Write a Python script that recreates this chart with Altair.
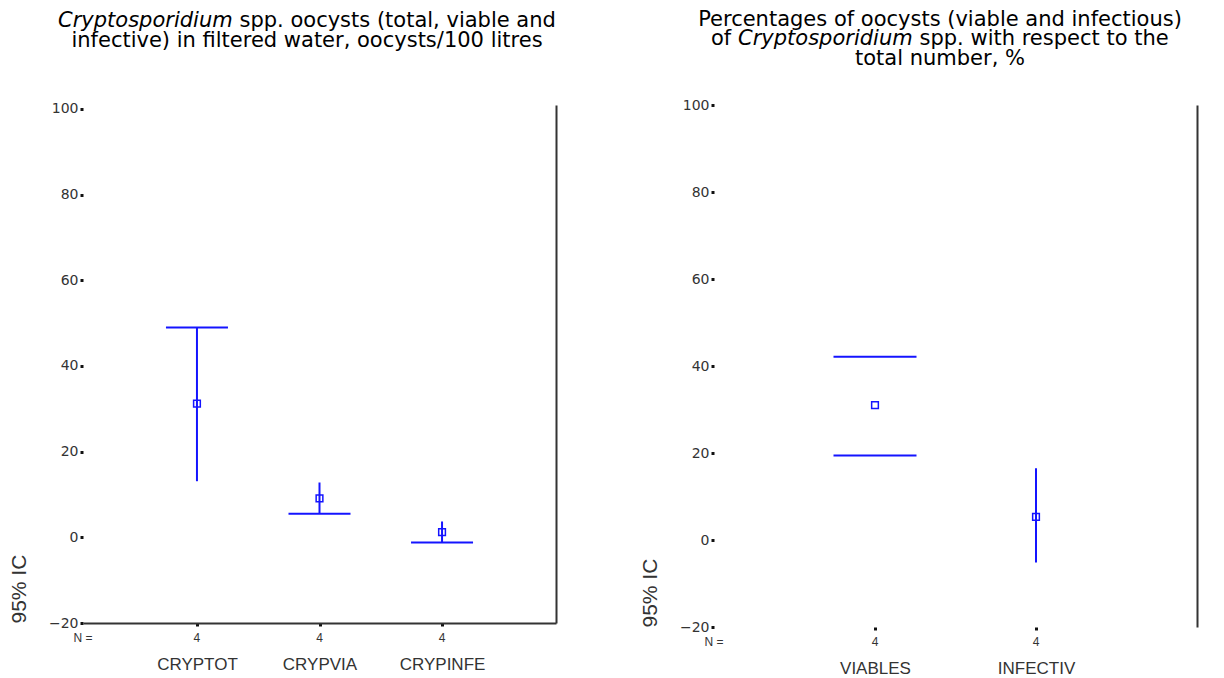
import altair as alt
import pandas as pd

# ---------------- data ----------------
# Panel 1: oocysts / 100 litres
cat1 = ["CRYPTOT", "CRYPVIA", "CRYPINFE"]
n1 = [4, 4, 4]
mean1 = [31.2, 9.1, 1.2]
lower1 = [13.1, 5.5, -1.2]
upper1 = [49.0, 12.8, 3.7]
caps1 = [["upper"], ["lower"], ["lower"]]      # CI ends drawn with a cap
stem1 = [True, True, True]                     # CI line drawn

# Panel 2: percentages
cat2 = ["VIABLES", "INFECTIV"]
n2 = [4, 4]
mean2 = [31.0, 5.3]
lower2 = [19.4, -5.2]
upper2 = [42.1, 16.5]
caps2 = [["lower", "upper"], []]
stem2 = [False, True]

yticks = [-20, 0, 20, 40, 60, 80, 100]

title1 = [
    [("Cryptosporidium", "italic"), ("spp. oocysts (total, viable and", "normal")],
    [("infective) in filtered water, oocysts/100 litres", "normal")],
]
title2 = [
    [("Percentages of oocysts (viable and infectious)", "normal")],
    [("of", "normal"), ("Cryptosporidium", "italic"), ("spp. with respect to the", "normal")],
    [("total number, %", "normal")],
]
ytitle = "95% IC"

# ---------------- styling ----------------
FONT = "Liberation Sans"
TFONT = "DejaVu Sans"
BLUE = "#1414ff"
AX = "#333333"


def frames(cats, ns, means, lows, ups, caps, stems):
    main = pd.DataFrame({"cat": cats, "n": ns, "mean": means,
                         "lower": lows, "upper": ups, "stem": stems})
    rows = []
    for c, lo, up, cp in zip(cats, lows, ups, caps):
        for which in cp:
            rows.append({"cat": c, "v": lo if which == "lower" else up})
    capdf = pd.DataFrame(rows, columns=["cat", "v"])
    return main, capdf


def text_seg(txt, x, y, align, style):
    return alt.Chart(alt.Data(values=[{"k": 0}])).mark_text(
        text=txt, align=align, baseline="alphabetic", font=TFONT,
        fontSize=21, fontStyle=style, color="#000000"
    ).encode(x=alt.value(x), y=alt.value(y))


def panel(cats, main, capdf, w, h, ydom, pad, capw, title_layers, xdomain_line):
    xscale = alt.Scale(type="point", domain=cats, padding=pad)
    yscale = alt.Scale(domain=ydom, nice=False, zero=False)
    xaxis = alt.Axis(domain=xdomain_line, domainColor=AX, domainWidth=2,
                     ticks=True, tickSize=3, tickWidth=3, tickColor="#111111",
                     labelAngle=0, labelFont=FONT, labelFontSize=17,
                     labelColor=AX, labelPadding=30, title=None, grid=False)
    yaxis = alt.Axis(values=yticks, domain=False, grid=False, ticks=True,
                     tickSize=3, tickWidth=3, tickColor="#111111",
                     labelFont=TFONT, labelFontSize=14, labelColor=AX,
                     labelPadding=2, title=ytitle, titleFont=FONT,
                     titleFontSize=21, titleFontWeight="normal", titleColor=AX,
                     titleAngle=270, titleAlign="left", titleBaseline="middle",
                     titleX=-63.5, titleY=h)
    raxis = alt.Axis(orient="right", domain=True, domainColor=AX,
                     domainWidth=2, ticks=False, labels=False, title=None,
                     grid=False)

    base = alt.Chart(main)
    stems = base.mark_rule(color=BLUE, strokeWidth=2, opacity=1).encode(
        x=alt.X("cat:N", scale=xscale, axis=xaxis),
        y=alt.Y("lower:Q", scale=yscale, axis=yaxis),
        y2="upper:Q",
    ).transform_filter(alt.datum.stem)
    caps = alt.Chart(capdf).mark_tick(color=BLUE, thickness=2, size=capw,
                                      opacity=1).encode(
        x=alt.X("cat:N", scale=xscale, axis=None),
        y=alt.Y("v:Q", scale=yscale, axis=None),
    )
    means = base.mark_point(shape="square", filled=False, size=45,
                            strokeWidth=1.5, color=BLUE, opacity=1).encode(
        x=alt.X("cat:N", scale=xscale, axis=None),
        y=alt.Y("mean:Q", scale=yscale, axis=raxis),
    )
    nlab = base.mark_text(font=FONT, fontSize=12, color=AX,
                          baseline="middle").encode(
        x=alt.X("cat:N", scale=xscale, axis=None),
        y=alt.value(h + 15),
        text="n:Q",
    )
    nhead = alt.Chart(alt.Data(values=[{"k": 0}])).mark_text(
        text="N =", font=FONT, fontSize=12, color=AX, baseline="middle"
    ).encode(x=alt.value(0), y=alt.value(h + 15))

    return alt.layer(stems, caps, means, nlab, nhead, *title_layers).resolve_axis(
        x="independent", y="independent"
    ).properties(width=w, height=h)


main1, capdf1 = frames(cat1, n1, mean1, lower1, upper1, caps1, stem1)
main2, capdf2 = frames(cat2, n2, mean2, lower2, upper2, caps2, stem2)

# title lines (baselines relative to plot top)
t1 = [
    text_seg(title1[0][0][0], -25, -78, "left", title1[0][0][1]),
    text_seg(title1[0][1][0], 156.5, -78, "left", title1[0][1][1]),
    text_seg(title1[1][0][0], 224, -58.5, "center", title1[1][0][1]),
]
t2 = [
    text_seg(title2[0][0][0], 226, -79.5, "center", title2[0][0][1]),
    text_seg(title2[1][0][0], -3, -60, "left", title2[1][0][1]),
    text_seg(title2[1][1][0], 24, -60, "left", title2[1][1][1]),
    text_seg(title2[1][2][0], 205.5, -60, "left", title2[1][2][1]),
    text_seg(title2[2][0][0], 226, -40.5, "center", title2[2][0][1]),
]

left = panel(cat1, main1, capdf1, 473, 518, [-20, 100.93], 0.93, 62, t1, True)
right = panel(cat2, main2, capdf2, 483, 522, [-20, 100], 1.02, 83, t2, False)

chart = alt.hconcat(left, right, spacing=158, bounds="flush").properties(
    padding={"left": 0, "top": 0, "right": 6, "bottom": 0},
).configure_view(stroke=None)

chart.save("out.html", embed_options={"renderer": "svg", "actions": False})
